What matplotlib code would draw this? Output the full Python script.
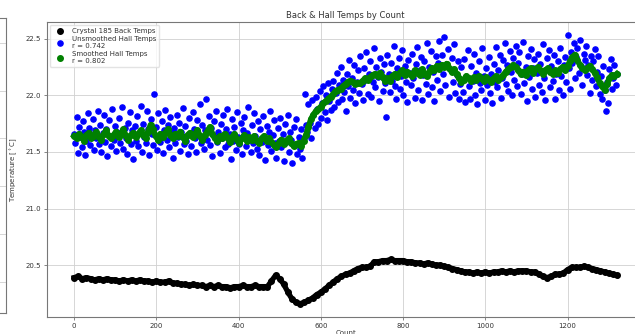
#  plot.py
#  Back & Hall temperatures by count, crystal 185
#
#  Scatter of back temps, unsmoothed hall temps and smoothed hall temps

import matplotlib
matplotlib.use("Agg")
import matplotlib.pyplot as plt
from matplotlib.ticker import MultipleLocator
import numpy as np

# back temps, one value every 10 counts
back_step = 10
back_temps = [
    20.39, 20.40, 20.38, 20.39, 20.38, 20.37, 20.38, 20.37, 20.38, 20.37,
    20.37, 20.36, 20.37, 20.36, 20.37, 20.36, 20.37, 20.36, 20.36, 20.35,
    20.36, 20.35, 20.35, 20.36, 20.34, 20.34, 20.33, 20.33, 20.32, 20.33,
    20.32, 20.32, 20.31, 20.32, 20.31, 20.32, 20.31, 20.31, 20.30, 20.31,
    20.31, 20.32, 20.31, 20.31, 20.32, 20.31, 20.31, 20.31, 20.36, 20.41,
    20.38, 20.33, 20.26, 20.20, 20.17, 20.16, 20.17, 20.19, 20.21, 20.24,
    20.26, 20.29, 20.32, 20.35, 20.38, 20.40, 20.42, 20.43, 20.45, 20.47,
    20.48, 20.48, 20.49, 20.53, 20.53, 20.54, 20.54, 20.55, 20.54, 20.54,
    20.54, 20.53, 20.53, 20.52, 20.52, 20.51, 20.52, 20.51, 20.50, 20.50,
    20.49, 20.48, 20.47, 20.46, 20.45, 20.44, 20.44, 20.43, 20.44, 20.43,
    20.44, 20.43, 20.44, 20.44, 20.45, 20.44, 20.45, 20.44, 20.45, 20.45,
    20.45, 20.44, 20.44, 20.42, 20.40, 20.39, 20.40, 20.42, 20.42, 20.43,
    20.46, 20.48, 20.48, 20.48, 20.49, 20.48, 20.47, 20.46, 20.45, 20.44,
    20.43, 20.42, 20.41,
]

# unsmoothed hall temps, one value every 3 counts
hall_step = 3
hall_temps = [
    21.66, 21.58, 21.81, 21.49, 21.72, 21.63, 21.54, 21.77, 21.68, 21.47, 21.60, 21.84, 21.71, 21.56, 21.65, 21.79, 21.52, 21.69, 21.62, 21.86, 21.57,
    21.74, 21.50, 21.67, 21.83, 21.59, 21.70, 21.46, 21.78, 21.64, 21.55, 21.88, 21.61, 21.73, 21.51, 21.68, 21.80, 21.58, 21.66, 21.90, 21.53, 21.71,
    21.62, 21.48, 21.76, 21.85, 21.57, 21.69, 21.44, 21.73, 21.60, 21.82, 21.55, 21.67, 21.91, 21.50, 21.75, 21.63, 21.58, 21.86, 21.70, 21.47, 21.79,
    21.66, 21.56, 22.01, 21.72, 21.52, 21.84, 21.64, 21.59, 21.77, 21.49, 21.69, 21.87, 21.61, 21.74, 21.54, 21.81, 21.67, 21.45, 21.71, 21.58, 21.83,
    21.63, 21.76, 21.51, 21.68, 21.89, 21.57, 21.73, 21.60, 21.48, 21.80, 21.66, 21.55, 21.85, 21.70, 21.62, 21.50, 21.78, 21.65, 21.92, 21.58, 21.74,
    21.53, 21.69, 21.97, 21.61, 21.82, 21.56, 21.71, 21.46, 21.77, 21.64, 21.86, 21.59, 21.68, 21.49, 21.75, 21.62, 21.83, 21.54, 21.70, 21.88, 21.57,
    21.66, 21.44, 21.79, 21.60, 21.72, 21.52, 21.85, 21.63, 21.57, 21.76, 21.48, 21.69, 21.81, 21.55, 21.67, 21.90, 21.61, 21.50, 21.74, 21.58, 21.84,
    21.64, 21.53, 21.77, 21.47, 21.70, 21.59, 21.82, 21.62, 21.43, 21.73, 21.56, 21.68, 21.86, 21.51, 21.65, 21.78, 21.58, 21.45, 21.71, 21.60, 21.80,
    21.54, 21.66, 21.42, 21.75, 21.59, 21.83, 21.50, 21.68, 21.61, 21.40, 21.72, 21.56, 21.79, 21.48, 21.63, 21.53, 21.70, 21.45, 21.62, 22.01, 21.74,
    21.68, 21.92, 21.76, 21.62, 21.96, 21.83, 21.71, 21.99, 21.88, 21.75, 22.04, 21.80, 21.93, 22.08, 21.85, 22.00, 21.78, 22.11, 21.95, 21.87, 22.06,
    22.13, 21.90, 22.02, 22.20, 21.94, 22.09, 22.25, 21.97, 22.14, 22.03, 21.86, 22.19, 22.08, 22.31, 21.98, 22.15, 22.05, 22.27, 21.93, 22.12, 22.22,
    22.02, 22.35, 22.10, 21.96, 22.24, 22.14, 22.38, 22.01, 22.19, 22.30, 21.99, 22.12, 22.42, 22.07, 22.25, 22.16, 21.95, 22.33, 22.21, 22.04, 22.28,
    22.11, 21.81, 22.36, 22.19, 22.03, 22.29, 22.13, 22.44, 22.08, 21.97, 22.24, 22.33, 22.06, 22.17, 22.40, 22.00, 22.26, 22.12, 21.94, 22.31, 22.20,
    22.09, 22.37, 22.15, 21.98, 22.28, 22.43, 22.05, 22.22, 22.34, 21.96, 22.18, 22.30, 22.10, 22.46, 22.01, 22.25, 22.39, 22.07, 22.21, 21.95, 22.35,
    22.14, 22.29, 22.48, 22.04, 22.36, 22.19, 22.52, 22.09, 22.27, 22.41, 21.99, 22.23, 22.33, 22.12, 22.45, 22.02, 22.18, 22.30, 21.97, 22.10, 22.25,
    22.03, 22.32, 21.94, 22.16, 22.40, 22.08, 21.97, 22.26, 22.13, 22.37, 22.00, 22.20, 21.92, 22.30, 22.11, 22.05, 22.42, 22.17, 21.96, 22.24, 22.09,
    22.34, 22.02, 22.19, 21.93, 22.28, 22.12, 22.43, 22.07, 22.22, 22.36, 21.98, 22.15, 22.31, 22.46, 22.10, 22.27, 22.04, 22.39, 22.21, 22.00, 22.33,
    22.14, 22.44, 22.08, 22.29, 22.38, 22.01, 22.19, 22.47, 22.11, 22.25, 21.95, 22.35, 22.16, 22.41, 22.06, 22.24, 22.32, 21.99, 22.20, 22.37, 22.09,
    22.28, 22.03, 22.45, 22.15, 21.96, 22.33, 22.22, 22.40, 22.07, 22.26, 22.13, 22.36, 21.97, 22.19, 22.30, 22.05, 22.42, 22.17, 22.00, 22.27, 22.34,
    22.12, 22.53, 22.24, 22.06, 22.38, 22.29, 22.46, 22.15, 22.34, 22.42, 22.20, 22.49, 22.26, 22.09, 22.37, 22.31, 22.44, 22.18, 22.27, 22.02, 22.35,
    22.14, 22.30, 22.41, 22.08, 22.21, 22.35, 22.01, 22.17, 21.97, 22.26, 22.05, 21.86, 22.12, 21.93, 22.23, 22.32, 22.06, 22.15, 22.27, 22.09, 22.19,
]

# smoothed hall temps, one value every 6 counts
smooth_step = 6
smooth_temps = [
    21.64, 21.62, 21.66, 21.63, 21.60, 21.65, 21.67, 21.62, 21.64, 21.68, 21.63, 21.61, 21.66, 21.69, 21.64, 21.62,
    21.65, 21.68, 21.63, 21.66, 21.70, 21.64, 21.61, 21.65, 21.67, 21.63, 21.66, 21.69, 21.65, 21.62, 21.68, 21.74,
    21.70, 21.64, 21.61, 21.66, 21.63, 21.67, 21.70, 21.65, 21.62, 21.66, 21.64, 21.68, 21.63, 21.60, 21.65, 21.67,
    21.63, 21.66, 21.69, 21.64, 21.61, 21.65, 21.68, 21.72, 21.66, 21.62, 21.60, 21.64, 21.62, 21.66, 21.63, 21.59,
    21.63, 21.66, 21.61, 21.58, 21.62, 21.65, 21.60, 21.63, 21.61, 21.64, 21.60, 21.58, 21.62, 21.64, 21.60, 21.62,
    21.59, 21.56, 21.54, 21.58, 21.61, 21.57, 21.60, 21.62, 21.58, 21.55, 21.57, 21.58, 21.55, 21.60, 21.65, 21.72,
    21.79, 21.83, 21.86, 21.88, 21.90, 21.93, 21.95, 21.97, 21.99, 22.01, 22.04, 22.05, 22.06, 22.08, 22.10, 22.12,
    22.13, 22.12, 22.10, 22.11, 22.11, 22.13, 22.15, 22.14, 22.16, 22.18, 22.19, 22.17, 22.20, 22.16, 22.13, 22.15,
    22.13, 22.17, 22.19, 22.16, 22.20, 22.22, 22.18, 22.21, 22.19, 22.17, 22.22, 22.20, 22.18, 22.23, 22.19, 22.17,
    22.21, 22.24, 22.22, 22.26, 22.23, 22.27, 22.25, 22.28, 22.24, 22.21, 22.23, 22.19, 22.15, 22.12, 22.14, 22.17,
    22.15, 22.13, 22.16, 22.14, 22.17, 22.15, 22.13, 22.16, 22.14, 22.12, 22.15, 22.17, 22.14, 22.16, 22.18, 22.21,
    22.23, 22.25, 22.27, 22.25, 22.22, 22.19, 22.21, 22.18, 22.22, 22.24, 22.20, 22.23, 22.25, 22.22, 22.19, 22.22,
    22.24, 22.21, 22.19, 22.22, 22.20, 22.23, 22.25, 22.22, 22.26, 22.30, 22.34, 22.36, 22.31, 22.27, 22.24, 22.22,
    22.24, 22.26, 22.23, 22.20, 22.16, 22.11, 22.08, 22.05, 22.10, 22.15, 22.18, 22.17, 22.19,
]

labels = ["Crystal 185 Back Temps",
          "Unsmoothed Hall Temps\nr = 0.742",
          "Smoothed Hall Temps\nr = 0.802"]


def main():
    plt.rcParams["font.size"] = 5
    fig = plt.figure(figsize=(6.35, 3.34), dpi=100)

    # neighbour subplot, only its right edge is left in the picture
    ax0 = fig.add_axes([-0.5, 21 / 334, 0.5 + 6 / 635, 295 / 334])
    ax0.set_ylim(-0.65, 5.52)
    ax0.set_yticks(range(6))
    ax0.set_xticks([])
    ax0.tick_params(left=False, labelleft=False)
    ax0.grid(color="#d0d0d0", linewidth=0.6)
    for sp in ax0.spines.values():
        sp.set_color("#777777")
        sp.set_linewidth(0.8)

    # main plot
    ax = fig.add_axes([47 / 635, 17 / 334, 597 / 635, 295 / 334])
    back_x = np.arange(len(back_temps)) * back_step
    hall_x = np.arange(len(hall_temps)) * hall_step
    smooth_x = np.arange(len(smooth_temps)) * smooth_step

    ax.scatter(back_x, back_temps, s=16, color="k", label=labels[0], zorder=3)
    ax.plot(back_x, back_temps, color="k", linewidth=3.8, zorder=3)
    ax.scatter(hall_x, hall_temps, s=14, color="b", label=labels[1], zorder=3)
    ax.scatter(smooth_x, smooth_temps, s=16, color="g", label=labels[2], zorder=4)
    ax.plot(smooth_x, smooth_temps, color="g", linewidth=4.2, zorder=4)

    ax.xaxis.set_major_locator(MultipleLocator(200))
    ax.yaxis.set_major_locator(MultipleLocator(0.5))
    ax.tick_params(length=2.2, width=0.5, pad=2, colors="#555555", labelcolor="#333333")
    ax.grid(color="#d0d0d0", linewidth=0.6)
    ax.set_axisbelow(True)
    for sp in ax.spines.values():
        sp.set_color("#777777")
        sp.set_linewidth(0.8)

    ax.set_title("Back & Hall Temps by Count", pad=3, fontsize=6, color="#333333")
    ax.set_xlabel("Count", labelpad=0.5, color="#333333")
    ax.set_ylabel("Temperature [$^\\circ$C]", labelpad=4, color="#333333")
    ax.legend(loc="upper left", fontsize=5, borderaxespad=0.4, handletextpad=0.8,
              labelspacing=0.3, framealpha=0.8, edgecolor="#dddddd",
              labelcolor="#333333", scatterpoints=1)

    fig.savefig("out.png", dpi=100)


if __name__ == "__main__":
    main()
